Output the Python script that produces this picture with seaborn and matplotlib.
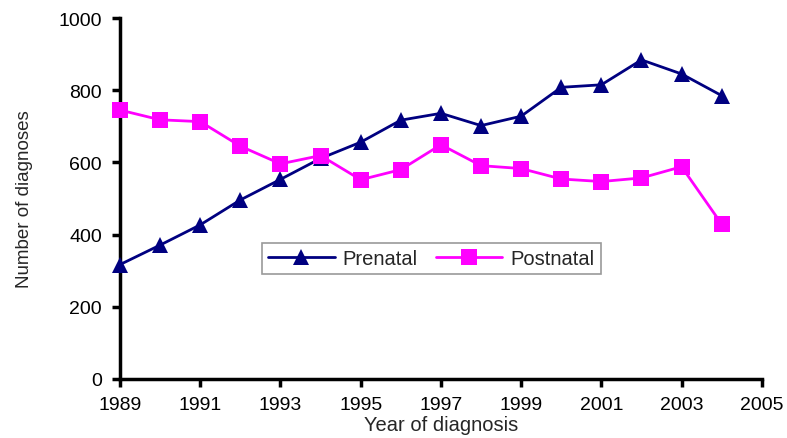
import numpy as np
import pandas as pd
import matplotlib
matplotlib.use("Agg")
import matplotlib.pyplot as plt
import seaborn as sns

years = list(range(1989, 2005))
prenatal = [317, 371, 427, 496, 553, 611, 656, 717, 736, 702, 728, 808, 815, 884, 845, 785]
postnatal = [745, 718, 713, 645, 596, 619, 552, 580, 649, 591, 583, 554, 547, 557, 588, 429]
x_ticks = list(range(1989, 2006, 2))
y_ticks = [0, 200, 400, 600, 800, 1000]

df = pd.DataFrame({
    "year": years * 2,
    "count": prenatal + postnatal,
    "type": ["Prenatal"] * len(years) + ["Postnatal"] * len(years),
})

sns.set_style("white")
plt.rcParams["font.family"] = ["Liberation Sans", "DejaVu Sans"]

fig = plt.figure(figsize=(7.87, 4.39), dpi=100)
ax = fig.add_axes([0.1525, 0.1344, 0.8155, 0.8223])

sns.lineplot(data=df, x="year", y="count", hue="type", style="type",
             palette={"Prenatal": "#000080", "Postnatal": "#FF00FF"},
             markers={"Prenatal": "^", "Postnatal": "s"}, dashes=False,
             markersize=12, markeredgewidth=0, linewidth=2, ax=ax)
for ln in ax.lines:
    ln.set_clip_on(False)
    ln.set_zorder(5)

ax.set_xlim(1989, 2005)
ax.set_ylim(0, 1000)
ax.set_xticks(x_ticks)
ax.set_yticks(y_ticks)
ax.tick_params(axis="both", direction="out", length=6, width=2.5,
               labelsize=14, bottom=True, left=True, colors="black")
ax.tick_params(axis="x", pad=6)
ax.tick_params(axis="y", pad=7)
for s in ["left", "bottom"]:
    ax.spines[s].set_linewidth(2.5)
    ax.spines[s].set_color("black")
ax.spines["top"].set_visible(False)
ax.spines["right"].set_visible(False)

ax.set_xlabel("Year of diagnosis", fontsize=14.5, labelpad=2)
ax.set_ylabel("Number of diagnoses", fontsize=13.5, labelpad=18)

leg = ax.legend(loc="center", bbox_to_anchor=(0.485, 0.334), ncol=2,
                fontsize=14.5, frameon=True, fancybox=False, borderpad=0.3,
                handlelength=3.3, columnspacing=0.9, handletextpad=0.4)
leg.get_frame().set_edgecolor("#808080")
leg.get_frame().set_linewidth(1.2)

fig.savefig("out.png", dpi=100)
